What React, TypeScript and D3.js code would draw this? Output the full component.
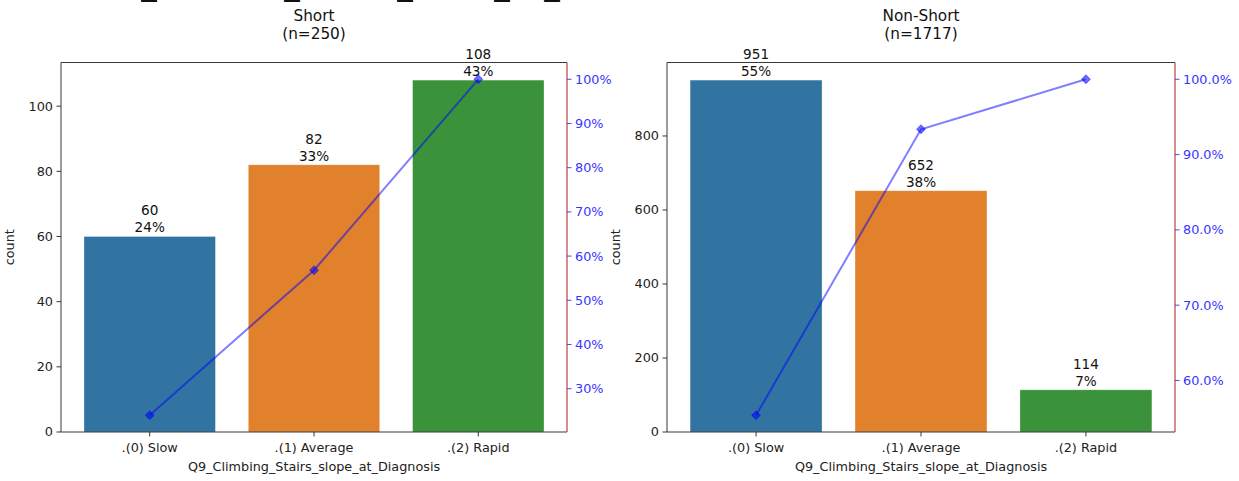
import React from "react";
import * as d3 from "d3";

const categories = [".(0) Slow", ".(1) Average", ".(2) Rapid"];
const shortCounts = [60, 82, 108];
const nonShortCounts = [951, 652, 114];
const groupNames = ["Short", "Non-Short"];
const xLabel = "Q9_Climbing_Stairs_slope_at_Diagnosis";
const yLabel = "count";
const barColors = ["#3274a1", "#e1812c", "#3a923a"];
const pctDecimals = [0, 1];

const W = 1239;
const H = 481;
const FONT = "DejaVu Sans, sans-serif";
const TOP = 62.5;
const BOTTOM = 432;
const panels = [
  { left: 61, right: 567 },
  { left: 667, right: 1175 },
];
// fragments of a clipped super-title at the very top edge
const clippedTitleX = [141, 284, 397, 494, 544];

function Panel({ counts, name, left, right, decimals }: any) {
  const total = d3.sum(counts);
  const cum = Array.from(d3.cumsum(counts)).map((v: number) => (v / total) * 100);
  const x = d3.scaleLinear().domain([-0.54, 2.54]).range([left, right]);
  const step = x(1) - x(0);
  const bw = step * 0.8;
  const maxC = d3.max(counts) as number;
  const y = d3.scaleLinear().domain([0, maxC * 1.05]).range([BOTTOM, TOP]);
  const cmin = d3.min(cum) as number;
  const cmax = d3.max(cum) as number;
  const pad = (cmax - cmin) * 0.05;
  const y2 = d3.scaleLinear().domain([cmin - pad, cmax + pad]).range([BOTTOM, TOP]);
  const yTicks = y.ticks(6).filter((t) => t <= maxC * 1.05);
  const y2Ticks = d3.range(Math.ceil((cmin - pad) / 10) * 10, cmax + pad + 1e-9, 10);
  const line = d3
    .line<number>()
    .x((_, i) => x(i))
    .y((d) => y2(d));
  const cx = (left + right) / 2;
  const tickBlue = "#3535ff";
  return (
    <g fontFamily={FONT}>
      <text x={cx} y={21} textAnchor="middle" fontSize={15.3} fill="#111">
        {name}
      </text>
      <text x={cx} y={38.5} textAnchor="middle" fontSize={15.3} fill="#111">
        (n={total})
      </text>
      {counts.map((c: number, i: number) => (
        <rect
          key={i}
          x={x(i) - bw / 2}
          y={y(c)}
          width={bw}
          height={BOTTOM - y(c)}
          fill={barColors[i]}
          stroke="#ffffff"
          strokeOpacity={0.5}
          strokeWidth={0.6}
        />
      ))}
      {counts.map((c: number, i: number) => (
        <g key={"a" + i} fontSize={13.6} fill="#111" textAnchor="middle">
          <text x={x(i)} y={y(c) - 21}>{c}</text>
          <text x={x(i)} y={y(c) - 4}>{Math.round((c / total) * 100)}%</text>
        </g>
      ))}
      {/* left axis */}
      {yTicks.map((t) => (
        <g key={"y" + t}>
          <line x1={left - 4.5} x2={left} y1={y(t)} y2={y(t)} stroke="#222" strokeWidth={0.9} />
          <text x={left - 8} y={y(t)} dy="0.35em" textAnchor="end" fontSize={12.8} fill="#222">
            {t}
          </text>
        </g>
      ))}
      <text
        transform={`translate(${left - 47},${(TOP + BOTTOM) / 2}) rotate(-90)`}
        textAnchor="middle"
        fontSize={12.8}
        fill="#222"
      >
        {yLabel}
      </text>
      {/* x axis */}
      {categories.map((c, i) => (
        <g key={"x" + i}>
          <line x1={x(i)} x2={x(i)} y1={BOTTOM} y2={BOTTOM + 4.5} stroke="#222" strokeWidth={0.9} />
          <text x={x(i)} y={BOTTOM + 20} textAnchor="middle" fontSize={12.8} fill="#222">
            {c}
          </text>
        </g>
      ))}
      <text x={cx} y={BOTTOM + 39} textAnchor="middle" fontSize={12.8} fill="#222">
        {xLabel}
      </text>
      {/* cumulative line */}
      <path d={line(cum) || ""} fill="none" stroke="#0000ff" strokeOpacity={0.5} strokeWidth={2} />
      {cum.map((v, i) => (
        <rect
          key={"m" + i}
          x={x(i) - 3}
          y={y2(v) - 3}
          width={6}
          height={6}
          transform={`rotate(45 ${x(i)} ${y2(v)})`}
          fill="#0000ff"
          fillOpacity={0.55}
          stroke="#0000ff"
          strokeOpacity={0.5}
          strokeWidth={1}
        />
      ))}
      {/* right axis */}
      {y2Ticks.map((t) => (
        <g key={"r" + t}>
          <line x1={right} x2={right + 4.5} y1={y2(t)} y2={y2(t)} stroke={tickBlue} strokeWidth={0.9} />
          <text x={right + 8} y={y2(t)} dy="0.35em" fontSize={12.8} fill={tickBlue}>
            {t.toFixed(decimals)}%
          </text>
        </g>
      ))}
      {/* spines */}
      <line x1={left} x2={left} y1={TOP} y2={BOTTOM} stroke="#222" strokeWidth={0.9} />
      <line x1={left} x2={right} y1={TOP} y2={TOP} stroke="#222" strokeWidth={0.9} />
      <line x1={left} x2={right} y1={BOTTOM} y2={BOTTOM} stroke="#222" strokeWidth={0.9} />
      <line x1={right} x2={right} y1={TOP} y2={BOTTOM} stroke="#a52020" strokeWidth={1} />
    </g>
  );
}

export default function App() {
  const data = [shortCounts, nonShortCounts];
  return (
    <svg
      width={W}
      height={H}
      style={{ position: "absolute", left: 0, top: 0, background: "#fff" }}
    >
      <rect width={W} height={H} fill="#fff" />
      {clippedTitleX.map((xp, i) => (
        <text key={"u" + i} x={xp} y={-6} fontFamily={FONT} fontSize={32} fontWeight="bold" fill="#111">
          _
        </text>
      ))}
      {panels.map((p, i) => (
        <Panel
          key={i}
          counts={data[i]}
          name={groupNames[i]}
          left={p.left}
          right={p.right}
          decimals={pctDecimals[i]}
        />
      ))}
    </svg>
  );
}
